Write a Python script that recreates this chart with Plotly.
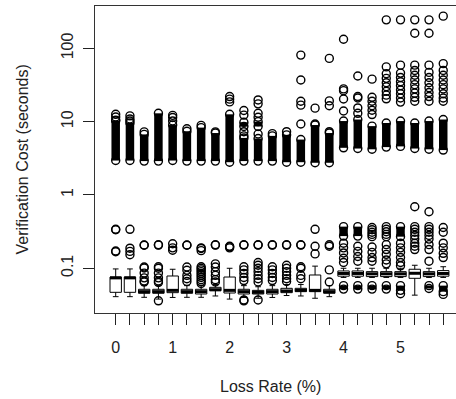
import plotly.graph_objects as go

# ---------------- data ----------------
loss_rate = [0.0, 0.25, 0.5, 0.75, 1.0, 1.25, 1.5, 1.75, 2.0, 2.25, 2.5, 2.75,
             3.0, 3.25, 3.5, 3.75, 4.0, 4.25, 4.5, 4.75, 5.0, 5.25, 5.5, 5.75]
tick_text = ["0", "", "", "", "1", "", "", "", "2", "", "", "",
             "3", "", "", "", "4", "", "", "", "5", "", "", ""]

box_q1 = [0.047, 0.047, 0.0456, 0.0456, 0.0465, 0.0456, 0.0446, 0.0495,
          0.046, 0.0446, 0.0446, 0.0446, 0.0465, 0.048, 0.048, 0.0456,
          0.078, 0.078, 0.077, 0.077, 0.077, 0.073, 0.077, 0.078]
box_median = [0.074, 0.074, 0.048, 0.048, 0.050, 0.048, 0.048, 0.051,
              0.050, 0.048, 0.047, 0.048, 0.049, 0.050, 0.050, 0.048,
              0.085, 0.085, 0.084, 0.084, 0.084, 0.0855, 0.084, 0.085]
box_q3 = [0.076, 0.076, 0.0517, 0.0517, 0.0785, 0.0517, 0.0517, 0.055,
          0.076, 0.0517, 0.050, 0.0517, 0.0533, 0.0533, 0.081, 0.0517,
          0.092, 0.092, 0.090, 0.090, 0.090, 0.097, 0.090, 0.093]
box_lo = [0.041, 0.041, 0.0402, 0.038, 0.040, 0.0402, 0.0402, 0.0419,
          0.038, 0.040, 0.039, 0.040, 0.0425, 0.0419, 0.039, 0.041,
          0.075, 0.075, 0.075, 0.075, 0.075, 0.043, 0.075, 0.075]
box_hi = [0.098, 0.098, 0.058, 0.058, 0.097, 0.058, 0.058, 0.060,
          0.100, 0.058, 0.056, 0.058, 0.060, 0.060, 0.107, 0.058,
          0.100, 0.100, 0.100, 0.100, 0.100, 0.110, 0.100, 0.105]

# single outlying observations (open circles)
outliers = [
    [0.34, 0.335, 0.168, 0.172, 12.6, 11.6, 10.5],
    [0.34, 0.188, 0.17, 0.153, 12.0, 10.9, 10.2],
    [0.208, 0.206, 0.104, 0.101, 0.086, 0.074, 0.067, 0.065, 7.25],
    [0.209, 0.207, 0.105, 0.1, 0.086, 0.074, 0.067, 0.064, 0.036],
    [0.216, 0.19, 0.176, 12.2, 11.4, 10.2],
    [0.208, 0.206, 0.104, 0.094, 0.08, 0.072, 0.066, 8.0],
    [0.19, 0.186, 0.174, 0.105, 0.1, 0.095, 0.09, 0.085, 0.08, 0.075, 0.07, 0.066, 0.062, 8.9],
    [0.209, 0.207, 0.115, 0.104, 0.09, 0.08, 0.07, 0.065, 7.25],
    [0.2, 0.196, 0.19, 22.0, 20.3, 18.6],
    [0.209, 0.207, 0.105, 0.095, 0.085, 0.075, 0.068, 0.037, 0.036, 14.2, 12.3, 7.3, 6.4],
    [0.209, 0.207, 0.12, 0.11, 0.1, 0.09, 0.08, 0.072, 0.065, 0.037, 19.8, 17.5, 13.0, 11.5, 6.8],
    [0.209, 0.207, 0.105, 0.095, 0.085, 0.075, 0.068, 6.86],
    [0.209, 0.207, 0.11, 0.1, 0.09, 0.08, 0.072, 0.066, 7.3],
    [0.209, 0.207, 0.105, 0.1, 0.08, 0.072, 81.0, 37.0, 19.0, 16.8, 9.3],
    [0.34, 0.2, 0.157, 15.3, 9.3],
    [0.209, 0.2, 0.095, 0.065, 73.0, 19.2, 16.5, 7.3],
    [0.22, 0.19, 0.162, 0.137, 0.12, 133.0, 28.0, 26.5, 20.4, 14.0],
    [0.2, 0.17, 0.145, 0.125, 42.0, 22.0, 21.0, 15.4, 13.0],
    [0.36, 0.335, 0.31, 0.29, 0.27, 0.195, 0.165, 0.14, 0.125,
     38.0, 21.5, 19.0, 16.5, 14.3, 12.5],
    [0.37, 0.34, 0.315, 0.29, 0.27, 0.21, 0.18, 0.155, 0.13, 0.115,
     245.0, 56.0, 45.0, 39.0, 34.0, 30.0, 26.0, 23.0, 20.5],
    [0.22, 0.19, 0.165, 0.14, 0.12, 0.108, 0.045,
     245.0, 59.0, 46.0, 40.0, 35.0, 31.0, 27.0, 24.0, 21.0, 18.5],
    [0.69, 0.37, 0.34, 0.31, 0.28, 0.25, 0.22, 0.2, 0.18,
     245.0, 161.0, 59.0, 50.0, 43.0, 37.0, 32.0, 28.0, 24.5, 21.5, 19.0],
    [0.59, 0.37, 0.34, 0.31, 0.28, 0.25, 0.21, 0.18, 0.125,
     245.0, 161.0, 59.0, 47.0, 40.0, 34.0, 29.0, 25.0, 22.0, 19.0],
    [0.36, 0.31, 0.22, 0.19, 0.16, 0.14, 0.044,
     275.0, 62.0, 50.0, 43.0, 37.0, 32.0, 28.0, 24.0, 21.0, 19.0],
]

# runs of densely packed outliers: (lowest, highest) value of each run
dense_runs = [
    [(2.95, 10.3)],
    [(2.95, 9.6)],
    [(2.9, 6.7)],
    [(2.9, 13.0)],
    [(2.95, 9.0)],
    [(2.9, 7.4)],
    [(2.9, 8.3)],
    [(2.9, 7.0)],
    [(2.8, 12.6)],
    [(2.9, 6.0), (8.6, 9.8)],
    [(2.9, 5.9), (8.6, 10.0)],
    [(2.9, 6.4)],
    [(2.8, 6.6)],
    [(2.8, 5.7)],
    [(2.75, 9.0)],
    [(2.75, 7.0)],
    [(0.052, 0.058), (0.275, 0.37), (4.4, 10.2)],
    [(0.052, 0.058), (0.275, 0.37), (4.3, 10.7)],
    [(0.052, 0.058), (4.2, 8.7)],
    [(0.052, 0.058), (4.5, 9.6)],
    [(0.050, 0.058), (0.27, 0.37), (4.6, 10.2)],
    [(4.3, 9.6)],
    [(0.053, 0.058), (4.2, 10.2)],
    [(0.048, 0.058), (4.1, 10.7)],
]

# ---------------- style ----------------
BOX_W = 0.2
INK = "black"
FONT = "Liberation Sans, Arial, Helvetica, sans-serif"

fig = go.Figure()

fig.add_trace(go.Box(
    x=loss_rate, q1=box_q1, median=box_median, q3=box_q3,
    lowerfence=box_lo, upperfence=box_hi,
    width=BOX_W, whiskerwidth=0.5, boxpoints=False,
    fillcolor="white", line=dict(color=INK, width=1),
    hoverinfo="skip", showlegend=False,
))

# thick median bars (R draws medians with lwd = 3)
mx, my = [], []
for x, m in zip(loss_rate, box_median):
    mx += [x - BOX_W / 2, x + BOX_W / 2, None]
    my += [m, m, None]
fig.add_trace(go.Scatter(x=mx, y=my, mode="lines",
                         line=dict(color=INK, width=3),
                         hoverinfo="skip", showlegend=False))

# dense runs of overlapping circles
bx, by = [], []
for x, runs in zip(loss_rate, dense_runs):
    for lo, hi in runs:
        bx += [x, x, None]
        by += [lo, hi, None]
fig.add_trace(go.Scatter(x=bx, y=by, mode="lines",
                         line=dict(color=INK, width=8.5),
                         hoverinfo="skip", showlegend=False))

# individual outlier circles (plus circle at each end of a dense run)
ox, oy = [], []
for x, vals, runs in zip(loss_rate, outliers, dense_runs):
    for v in vals:
        ox.append(x); oy.append(v)
    for lo, hi in runs:
        ox += [x, x]; oy += [lo, hi]
fig.add_trace(go.Scatter(x=ox, y=oy, mode="markers",
                         marker=dict(symbol="circle-open", size=8, color=INK,
                                     line=dict(width=1.4, color=INK)),
                         hoverinfo="skip", showlegend=False))

fig.update_layout(
    width=456, height=399,
    margin=dict(l=95, r=0, t=6, b=86, autoexpand=False),
    paper_bgcolor="white", plot_bgcolor="white",
    font=dict(family=FONT, size=16, color="#222"),
    showlegend=False,
    xaxis=dict(
        range=[-0.3634, 5.974], automargin=False,
        tickmode="array", tickvals=loss_rate, ticktext=tick_text,
        ticks="outside", ticklen=11, tickwidth=1, tickcolor="#222",
        showline=True, linecolor="#333", linewidth=1, mirror=True,
        showgrid=False, zeroline=False,
        tickfont=dict(size=16, color="#222"),
        ticklabelstandoff=9,
    ),
    yaxis=dict(
        type="log", range=[-1.610, 2.578], automargin=False,
        tickmode="array", tickvals=[0.1, 1, 10, 100],
        ticktext=["0.1", "1", "10", "100"],
        ticks="outside", ticklen=11, tickwidth=1, tickcolor="#222",
        tickangle=-90,
        showline=True, linecolor="#333", linewidth=1, mirror=False,
        showgrid=False, zeroline=False,
        tickfont=dict(size=16, color="#222"),
        ticklabelstandoff=4,
    ),
    annotations=[
        dict(text="Loss Rate (%)", xref="paper", yref="paper",
             x=(270 - 95) / 361, y=(313 - 386) / 307,
             xanchor="center", yanchor="middle", showarrow=False,
             font=dict(size=16, color="#222")),
        dict(text="Verification Cost (seconds)", xref="paper", yref="paper",
             x=(22 - 95) / 361, y=0.5, textangle=-90,
             xanchor="center", yanchor="middle", showarrow=False,
             font=dict(size=16, color="#222")),
    ],
)

fig.write_html("out.html",
               config={"displayModeBar": False, "staticPlot": True},
               post_script="document.body.style.margin='0px';document.body.style.padding='0px';")
